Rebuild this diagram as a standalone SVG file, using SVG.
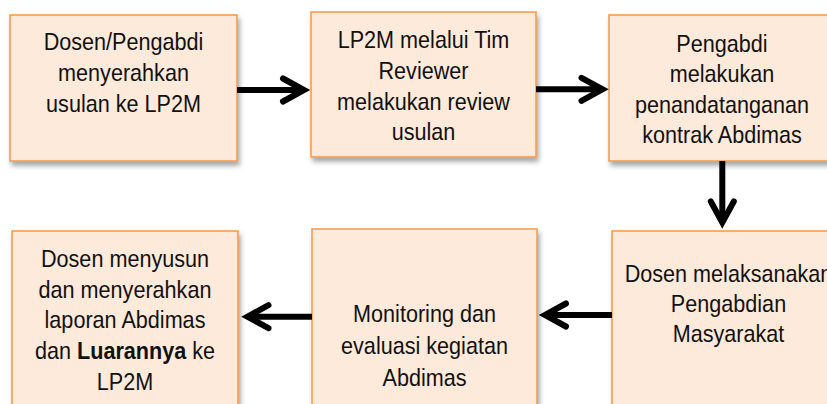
<svg xmlns="http://www.w3.org/2000/svg" width="827" height="404" viewBox="0 0 827 404">
<defs>
<filter id="sh" x="-10%" y="-10%" width="130%" height="130%">
<feDropShadow dx="2" dy="4" stdDeviation="2.5" flood-color="#000" flood-opacity="0.35"/>
</filter>
<marker id="ah" markerUnits="userSpaceOnUse" viewBox="-30 -16 40 32" refX="0" refY="0" markerWidth="40" markerHeight="32" orient="auto" overflow="visible">
<path d="M-21 -11.5 L0 0 L-21 11.5" fill="none" stroke="#000" stroke-width="6" stroke-linecap="round" stroke-linejoin="miter"/>
</marker>
</defs>
<style>
.box{fill:#FDEADA;stroke:#F79646;stroke-width:1.5;filter:url(#sh)}
.t{font-family:"Liberation Sans",Arial,sans-serif;font-size:24px;fill:#111;text-anchor:middle}
.c{fill:none;stroke:#000;stroke-width:6;marker-end:url(#ah)}
</style>
<rect width="827" height="404" fill="#fff"/>
<g id="n1">
<rect class="box" x="10" y="15" width="227" height="146"/>
<text class="t" transform="translate(123.5,0) scale(0.9,1)"><tspan x="0" y="50.5">Dosen/Pengabdi</tspan><tspan x="0" y="81.5">menyerahkan</tspan><tspan x="0" y="112.5">usulan ke LP2M</tspan></text>
</g>
<g id="n2">
<rect class="box" x="311" y="12" width="225" height="145"/>
<text class="t" transform="translate(423.5,0) scale(0.9,1)"><tspan x="0" y="48.3">LP2M melalui Tim</tspan><tspan x="0" y="79">Reviewer</tspan><tspan x="0" y="109.7">melakukan review</tspan><tspan x="0" y="140.3">usulan</tspan></text>
</g>
<g id="n3">
<rect class="box" x="609" y="15" width="226" height="146"/>
<text class="t" transform="translate(722,0) scale(0.9,1)"><tspan x="0" y="51.7">Pengabdi</tspan><tspan x="0" y="82.2">melakukan</tspan><tspan x="0" y="112.7">penandatanganan</tspan><tspan x="0" y="143.2">kontrak Abdimas</tspan></text>
</g>
<g id="n4">
<rect class="box" x="12" y="231" width="226" height="190"/>
<text class="t" transform="translate(125,0) scale(0.9,1)"><tspan x="0" y="267">Dosen menyusun</tspan><tspan x="0" y="297.7">dan menyerahkan</tspan><tspan x="0" y="328.4">laporan Abdimas</tspan><tspan x="0" y="359.1">dan <tspan font-weight="bold">Luarannya</tspan> ke</tspan><tspan x="0" y="389.8">LP2M</tspan></text>
</g>
<g id="n5">
<rect class="box" x="312" y="229" width="225" height="190"/>
<text class="t" transform="translate(424.5,0) scale(0.9,1)"><tspan x="0" y="322.5">Monitoring dan</tspan><tspan x="0" y="354.2">evaluasi kegiatan</tspan><tspan x="0" y="385.8">Abdimas</tspan></text>
</g>
<g id="n6">
<rect class="box" x="612" y="231" width="232" height="190"/>
<text class="t" transform="translate(728.5,0) scale(0.9,1)"><tspan x="0" y="282.5">Dosen melaksanakan</tspan><tspan x="0" y="312.5">Pengabdian</tspan><tspan x="0" y="342.5">Masyarakat</tspan></text>
</g>
<g id="connectors">
<path class="c" d="M237 90 H304"/>
<path class="c" d="M536 89.3 H602.5"/>
<path class="c" d="M722.3 161 V222.5"/>
<path class="c" d="M612 315 H545"/>
<path class="c" d="M312 316.7 H247.5"/>
</g>
</svg>
